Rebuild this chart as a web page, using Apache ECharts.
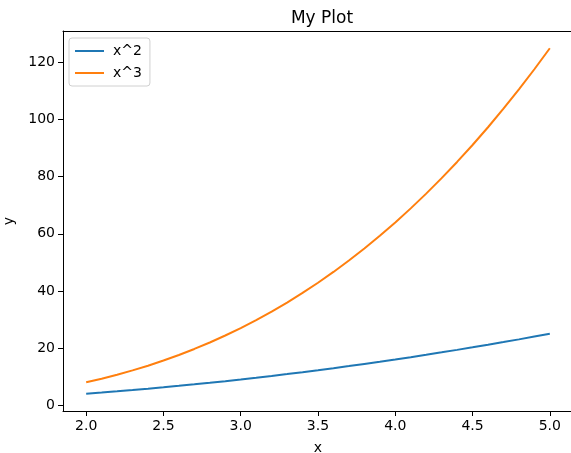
<!DOCTYPE html>
<html>
<head>
<meta charset="utf-8">
<script src="https://cdn.jsdelivr.net/npm/echarts@6/dist/echarts.min.js"></script>
<style>html,body{margin:0;padding:0;background:#fff;}#c{width:571px;height:453px;}</style>
</head>
<body>
<div id="c"></div>
<script>
var xValues = [2.0,2.1,2.2,2.3,2.4,2.5,2.6,2.7,2.8,2.9,3.0,3.1,3.2,3.3,3.4,3.5,3.6,3.7,3.8,3.9,4.0,4.1,4.2,4.3,4.4,4.5,4.6,4.7,4.8,4.9,5.0];
var squareValues = [4,4.41,4.84,5.29,5.76,6.25,6.76,7.29,7.84,8.41,9,9.61,10.24,10.89,11.56,12.25,12.96,13.69,14.44,15.21,16,16.81,17.64,18.49,19.36,20.25,21.16,22.09,23.04,24.01,25];
var cubeValues = [8,9.261,10.648,12.167,13.824,15.625,17.576,19.683,21.952,24.389,27,29.791,32.768,35.937,39.304,42.875,46.656,50.653,54.872,59.319,64,68.921,74.088,79.507,85.184,91.125,97.336,103.823,110.592,117.649,125];
var xTicks = [2.0,2.5,3.0,3.5,4.0,4.5,5.0];
var yTicks = [0,20,40,60,80,100,120];
var seriesNames = ['x^2','x^3'];

function pairs(xs, ys){ return xs.map(function(x,i){ return [x, ys[i]]; }); }

var chart = echarts.init(document.getElementById('c'), null, {renderer:'canvas'});
var font = 'DejaVu Sans';
chart.setOption({
  animation:false,
  backgroundColor:'#fff',
  title:{text:'My Plot', left:317, top:5, textAlign:'center',
    textStyle:{fontFamily:font, fontSize:17, fontWeight:'normal', color:'#000'}},
  grid:{left:63, top:31, width:510, height:380, show:false,
    containLabel:false, outerBoundsMode:'none'},
  legend:{orient:'vertical', left:69, top:38, data:seriesNames, icon:'rect', itemWidth:29, itemHeight:2, itemGap:8,
    backgroundColor:'rgba(255,255,255,0.8)', borderColor:'#d0d0d0', borderWidth:1, borderRadius:3,
    padding:[6,8,6,6],
    textStyle:{fontFamily:font, fontSize:14, color:'#000', padding:[0,0,0,4]}},
  xAxis:[{type:'value', min:1.85, max:5.15, name:'x', nameLocation:'middle', nameGap:30,
    nameTextStyle:{fontFamily:font, fontSize:14, color:'#000'},
    splitLine:{show:false},
    axisLine:{show:true, onZero:false, lineStyle:{color:'#000', width:1}},
    axisTick:{show:true, inside:false, length:5, lineStyle:{color:'#000'}, customValues:xTicks},
    axisLabel:{fontFamily:font, fontSize:14, color:'#000', margin:8, customValues:xTicks,
      formatter:function(v){ return v.toFixed(1); }}},
    {type:'value', position:'top', min:1.85, max:5.15,
    splitLine:{show:false},
    axisLine:{show:true, onZero:false, lineStyle:{color:'#000', width:1}},
    axisTick:{show:false}, axisLabel:{show:false}}],
  yAxis:{type:'value', min:-2.05, max:131.05, name:'y', nameLocation:'middle', nameGap:47, nameRotate:90,
    nameTextStyle:{fontFamily:font, fontSize:14, color:'#000'},
    splitLine:{show:false},
    axisLine:{show:true, onZero:false, lineStyle:{color:'#000', width:1}},
    axisTick:{show:true, inside:false, length:5, lineStyle:{color:'#000'}, customValues:yTicks},
    axisLabel:{fontFamily:font, fontSize:14, color:'#000', margin:8, customValues:yTicks,
      formatter:function(v){ return String(Math.round(v)); }}},
  series:[
    {name:seriesNames[0], type:'line', xAxisIndex:0, data:pairs(xValues, squareValues), showSymbol:false, symbol:'none',
      lineStyle:{color:'#1f77b4', width:2}, itemStyle:{color:'#1f77b4'}},
    {name:seriesNames[1], type:'line', xAxisIndex:0, data:pairs(xValues, cubeValues), showSymbol:false, symbol:'none',
      lineStyle:{color:'#ff7f0e', width:2}, itemStyle:{color:'#ff7f0e'}}
  ]
});
</script>
</body>
</html>
